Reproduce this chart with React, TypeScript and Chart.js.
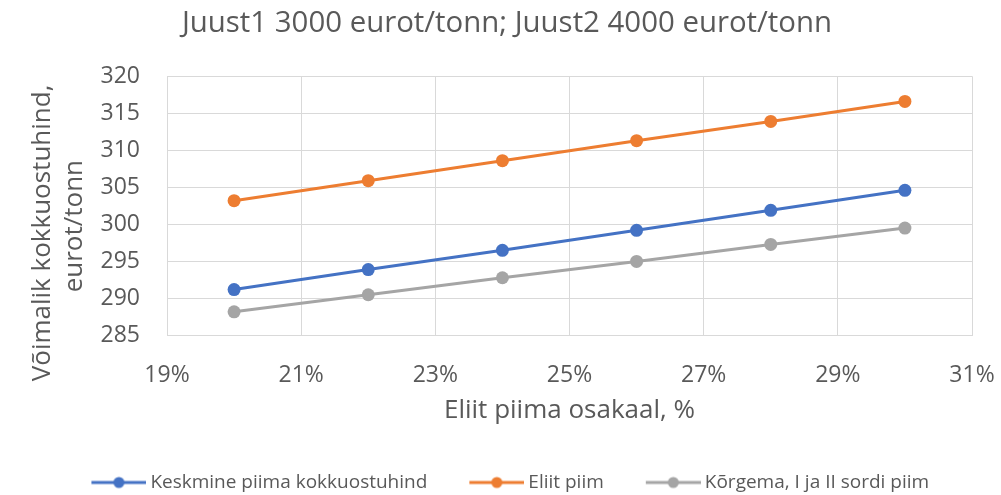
import React, { useEffect, useRef } from "react";
import { Chart, registerables } from "chart.js";

Chart.register(...registerables);

const shares = [20, 22, 24, 26, 28, 30];
const avgPrice = [291.2, 293.9, 296.5, 299.2, 301.9, 304.6];
const elitePrice = [303.2, 305.9, 308.6, 311.3, 313.9, 316.6];
const gradePrice = [288.2, 290.5, 292.8, 295.0, 297.3, 299.5];

const seriesNames = ["Keskmine piima kokkuostuhind", "Eliit piim", "Kõrgema, I ja II sordi piim"];
const seriesColors = ["#4472C4", "#ED7D31", "#A5A5A5"];

const titleText = "Juust1 3000 eurot/tonn; Juust2 4000 eurot/tonn";
const xTitle = "Eliit piima osakaal, %";
const yTitle = ["Võimalik kokkuostuhind,        ", "eurot/tonn      "];

const FONT = "'Open Sans', sans-serif";
const TEXT = "#595959";
const GRID = "#d9d9d9";

function legendMarker(color: string): HTMLCanvasElement {
  const c = document.createElement("canvas");
  c.width = 67;
  c.height = 14;
  const ctx = c.getContext("2d")!;
  ctx.strokeStyle = color;
  ctx.lineWidth = 3;
  ctx.beginPath();
  ctx.moveTo(12, 7);
  ctx.lineTo(67, 7);
  ctx.stroke();
  ctx.fillStyle = color;
  ctx.beginPath();
  ctx.arc(39.5, 7, 5.5, 0, Math.PI * 2);
  ctx.fill();
  return c;
}

export default function App() {
  const ref = useRef<HTMLCanvasElement | null>(null);

  useEffect(() => {
    document.body.style.margin = "0";
    if (!ref.current) return;
    const values = [avgPrice, elitePrice, gradePrice];
    const chart = new Chart(ref.current, {
      type: "line",
      data: {
        datasets: values.map((v, i) => ({
          label: seriesNames[i],
          data: shares.map((x, j) => ({ x, y: v[j] })),
          borderColor: seriesColors[i],
          backgroundColor: seriesColors[i],
          borderWidth: 3,
          pointRadius: 6.5,
          pointHoverRadius: 6.5,
          pointBorderWidth: 0,
          fill: false,
          tension: 0,
        })),
      },
      options: {
        responsive: false,
        animation: false,
        layout: { padding: { left: 18, right: 5, top: 0, bottom: -7 } },
        plugins: {
          tooltip: { enabled: false },
          title: {
            display: true,
            text: titleText,
            color: TEXT,
            font: { family: FONT, size: 29.4, weight: "normal", lineHeight: 1.2 },
            padding: { top: 6, bottom: 35 },
          },
          legend: {
            position: "bottom",
            labels: {
              color: TEXT,
              font: { family: FONT, size: 19 },
              usePointStyle: true,
              pointStyleWidth: 56,
              padding: 35.5,
              generateLabels: () =>
                seriesNames.map((name, i) => ({
                  text: name,
                  fillStyle: seriesColors[i],
                  strokeStyle: seriesColors[i],
                  fontColor: TEXT,
                  lineWidth: 0,
                  hidden: false,
                  datasetIndex: i,
                  pointStyle: legendMarker(seriesColors[i]),
                })),
            },
          },
        },
        scales: {
          x: {
            type: "linear",
            min: 19,
            max: 31,
            border: { color: GRID, width: 1 },
            grid: { color: GRID, lineWidth: 1, drawTicks: false },
            ticks: {
              stepSize: 2,
              color: TEXT,
              padding: 26,
              font: { family: FONT, size: 23 },
              callback: (v: any) => `${v}%`,
            },
            title: {
              display: true,
              text: xTitle,
              color: TEXT,
              font: { family: FONT, size: 26, lineHeight: 0.92 },
              padding: { top: 0, bottom: 15 },
            },
            afterFit: (s: any) => {
              s.height = 102;
              s.paddingLeft = 0;
              s.paddingRight = 29;
            },
          },
          y: {
            min: 285,
            max: 320,
            border: { color: GRID, width: 1 },
            grid: { color: GRID, lineWidth: 1, drawTicks: false },
            ticks: {
              stepSize: 5,
              color: TEXT,
              padding: 27,
              font: { family: FONT, size: 23 },
            },
            title: {
              display: true,
              text: yTitle,
              color: TEXT,
              font: { family: FONT, size: 26, lineHeight: 1.23 },
              padding: { top: 9, bottom: 0 },
            },
            afterFit: (s: any) => {
              s.width = 149;
            },
          },
        },
      },
    });
    return () => chart.destroy();
  }, []);

  return (
    <div style={{ width: 1001, height: 495 }}>
      <canvas ref={ref} width={1001} height={495} style={{ display: "block" }} />
    </div>
  );
}
